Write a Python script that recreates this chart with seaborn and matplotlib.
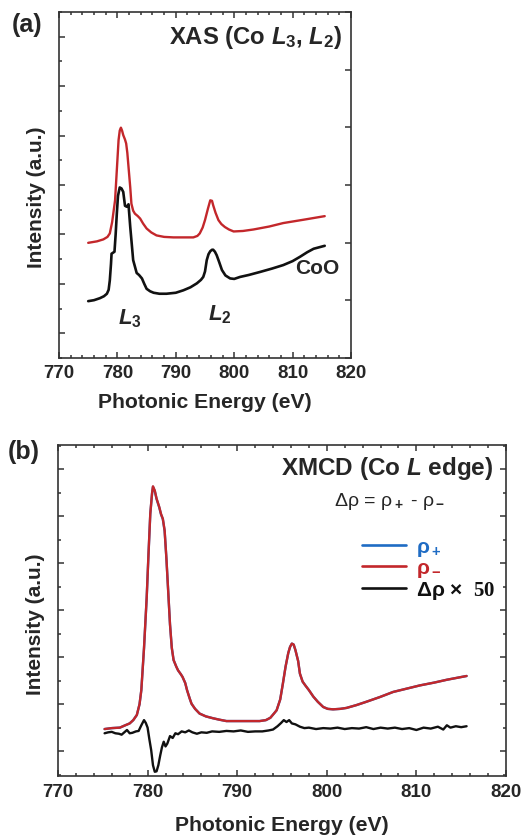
import matplotlib
matplotlib.use("Agg")
import matplotlib.pyplot as plt
from matplotlib.ticker import MultipleLocator
import pandas as pd
import seaborn as sns

# ---- data: panel (a) XAS ----
xas_red_energy = [775.0, 776.5, 777.6, 778.3, 778.7, 779.1, 779.6, 779.9, 780.2, 780.4,
                  780.6, 780.8, 781.0, 781.3, 781.5, 781.7, 781.9, 782.2, 782.4, 782.7,
                  783.0, 783.5, 783.9, 784.4, 785.0, 785.8, 786.7, 788.0, 789.6, 791.5,
                  793.0, 793.7, 794.1, 794.6, 795.0, 795.5, 795.9, 796.2, 796.4, 796.8,
                  797.3, 797.8, 798.4, 799.1, 799.9, 801.5, 803.3, 806.0, 808.4, 812.0,
                  815.5]
xas_red = [1.83, 1.86, 1.90, 1.95, 2.02, 2.25, 2.69, 3.30, 3.91, 4.10,
           4.16, 4.10, 4.01, 3.92, 3.84, 3.65, 3.37, 2.95, 2.62, 2.48,
           2.42, 2.37, 2.32, 2.22, 2.12, 2.04, 1.98, 1.95, 1.94, 1.94,
           1.94, 1.97, 2.02, 2.14, 2.29, 2.52, 2.69, 2.68, 2.59, 2.44,
           2.29, 2.21, 2.15, 2.10, 2.06, 2.07, 2.10, 2.16, 2.23, 2.30,
           2.37]

xas_coo_energy = [775.0, 776.0, 777.0, 777.7, 778.2, 778.5, 778.7, 778.9, 779.0, 779.5,
                  779.7, 779.9, 780.1, 780.4, 780.7, 781.0, 781.3, 781.6, 781.9, 782.2,
                  782.5, 782.7, 783.0, 783.3, 783.7, 784.2, 784.6, 785.0, 785.6, 786.2,
                  787.2, 788.4, 790.0, 791.3, 792.5, 793.6, 794.3, 794.7, 795.0, 795.3,
                  795.6, 795.9, 796.2, 796.4, 796.7, 797.0, 797.4, 797.9, 798.5, 799.3,
                  800.0, 801.0, 802.5, 804.4, 806.5, 808.4, 810.0, 811.3, 812.5, 813.6,
                  815.5]
xas_coo = [0.65, 0.67, 0.71, 0.75, 0.80, 0.88, 1.07, 1.40, 1.61, 1.65,
           2.00, 2.42, 2.78, 2.95, 2.93, 2.86, 2.58, 2.56, 2.61, 2.15,
           1.75, 1.48, 1.35, 1.22, 1.18, 1.11, 1.00, 0.90, 0.85, 0.82,
           0.80, 0.80, 0.82, 0.87, 0.93, 1.01, 1.08, 1.14, 1.25, 1.48,
           1.60, 1.66, 1.69, 1.69, 1.65, 1.58, 1.45, 1.28, 1.17, 1.11,
           1.10, 1.14, 1.18, 1.24, 1.31, 1.38, 1.46, 1.55, 1.64, 1.71,
           1.77]

# ---- data: panel (b) XMCD ----
xmcd_energy = [775.2, 776.0, 776.9, 777.5, 778.0, 778.4, 778.8, 779.1, 779.3, 779.6,
               779.9, 780.1, 780.3, 780.5, 780.6, 780.8, 781.0, 781.3, 781.5, 781.7,
               781.9, 782.1, 782.3, 782.5, 782.7, 782.9, 783.2, 783.4, 783.7, 783.9,
               784.2, 784.4, 784.7, 784.9, 785.3, 785.8, 786.5, 787.3, 788.0, 788.8,
               790.5, 792.5, 793.2, 793.7, 794.1, 794.4, 794.8, 795.1, 795.4, 795.7,
               795.9, 796.1, 796.3, 796.5, 796.8, 797.0, 797.3, 797.6, 798.0, 798.5,
               799.0, 799.6, 800.1, 800.7, 801.5, 802.2, 803.3, 804.4, 805.9, 807.4,
               808.9, 810.4, 812.0, 813.4, 814.5, 815.6]
rho_minus = [0.47, 0.49, 0.50, 0.55, 0.59, 0.66, 0.77, 1.00, 1.30, 2.20,
             3.28, 4.20, 5.06, 5.50, 5.64, 5.55, 5.38, 5.20, 5.05, 4.95,
             4.70, 4.10, 3.40, 2.70, 2.20, 1.94, 1.80, 1.72, 1.64, 1.58,
             1.45, 1.30, 1.12, 1.01, 0.90, 0.80, 0.74, 0.70, 0.67, 0.64,
             0.64, 0.64, 0.66, 0.71, 0.80, 0.87, 1.10, 1.44, 1.80, 2.09,
             2.22, 2.29, 2.27, 2.15, 1.92, 1.65, 1.48, 1.40, 1.30, 1.16,
             1.05, 0.94, 0.90, 0.89, 0.90, 0.92, 0.98, 1.05, 1.15, 1.26,
             1.33, 1.40, 1.46, 1.52, 1.56, 1.60]
rho_plus = [0.47, 0.49, 0.50, 0.55, 0.59, 0.66, 0.77, 1.00, 1.30, 2.19,
            3.27, 4.19, 5.05, 5.49, 5.63, 5.54, 5.37, 5.19, 5.04, 4.94,
            4.69, 4.10, 3.40, 2.70, 2.20, 1.94, 1.80, 1.72, 1.64, 1.58,
            1.45, 1.30, 1.12, 1.01, 0.90, 0.80, 0.74, 0.70, 0.67, 0.64,
            0.64, 0.64, 0.66, 0.71, 0.80, 0.87, 1.10, 1.44, 1.80, 2.09,
            2.22, 2.29, 2.27, 2.15, 1.92, 1.65, 1.48, 1.40, 1.30, 1.16,
            1.05, 0.94, 0.90, 0.89, 0.90, 0.92, 0.98, 1.05, 1.15, 1.26,
            1.33, 1.40, 1.46, 1.52, 1.56, 1.60]

diff_energy = [775.2, 775.6, 776.0, 776.4, 776.8, 777.1, 777.4, 777.7, 778.0, 778.3,
               778.7, 779.0, 779.3, 779.6, 779.8, 780.0, 780.2, 780.4, 780.6, 780.8,
               781.0, 781.2, 781.4, 781.6, 781.8, 782.0, 782.2, 782.5, 782.8, 783.1,
               783.4, 783.8, 784.2, 784.6, 785.0, 785.5, 786.0, 786.6, 787.2, 788.0,
               788.8, 789.6, 790.4, 791.2, 792.0, 792.8, 793.5, 794.0, 794.5, 794.9,
               795.2, 795.5, 795.8, 796.1, 796.5, 797.0, 797.5, 798.0, 798.8, 799.6,
               800.4, 801.2, 802.0, 802.8, 803.6, 804.4, 805.2, 806.0, 806.8, 807.6,
               808.4, 809.2, 810.0, 810.8, 811.6, 812.4, 813.0, 813.4, 813.8, 814.4,
               815.0, 815.6]
diff_x50 = [0.38, 0.40, 0.41, 0.38, 0.37, 0.35, 0.40, 0.45, 0.38, 0.39,
            0.42, 0.43, 0.55, 0.66, 0.60, 0.50, 0.25, 0.02, -0.30, -0.44,
            -0.43, -0.30, -0.10, 0.08, 0.20, 0.10, 0.16, 0.32, 0.28, 0.38,
            0.36, 0.42, 0.40, 0.44, 0.40, 0.37, 0.40, 0.39, 0.42, 0.41,
            0.43, 0.42, 0.44, 0.41, 0.42, 0.42, 0.44, 0.46, 0.53, 0.60,
            0.66, 0.62, 0.66, 0.59, 0.57, 0.52, 0.49, 0.50, 0.47, 0.49,
            0.48, 0.50, 0.47, 0.49, 0.48, 0.51, 0.47, 0.50, 0.48, 0.50,
            0.47, 0.49, 0.45, 0.50, 0.48, 0.52, 0.46, 0.55, 0.50, 0.53,
            0.51, 0.53]

RED = "#c3272b"
BLUE = "#1f6cc4"
BLACK = "#111111"
SPINE = "#333333"

sns.set_style("ticks")
plt.rcParams["font.family"] = ["Liberation Sans", "DejaVu Sans"]
plt.rcParams["font.weight"] = "bold"
plt.rcParams["mathtext.fontset"] = "custom"
plt.rcParams["mathtext.rm"] = "Liberation Sans"
plt.rcParams["mathtext.it"] = "Liberation Sans:italic:bold"
plt.rcParams["mathtext.bf"] = "Liberation Sans:bold"
plt.rcParams["mathtext.sf"] = "Liberation Serif:bold"

fig = plt.figure(figsize=(5.21, 8.40), dpi=100)
ax1 = fig.add_axes([59 / 521, 1 - 358 / 840, 292 / 521, 346 / 840])
ax2 = fig.add_axes([58 / 521, 1 - 776 / 840, 448 / 521, 331 / 840])


def style_axis(ax):
    ax.set_xlim(770, 820)
    ax.xaxis.set_major_locator(MultipleLocator(10))
    ax.xaxis.set_minor_locator(MultipleLocator(2))
    ax.yaxis.set_major_locator(MultipleLocator(1))
    ax.yaxis.set_minor_locator(MultipleLocator(0.5))
    ax.tick_params(which="both", direction="in", color=SPINE, width=1.1)
    ax.tick_params(which="major", length=4.5)
    ax.tick_params(which="minor", length=2.5)
    ax.tick_params(axis="x", which="both", top=True, labelsize=13.5, pad=5)
    ax.tick_params(axis="y", which="both", labelleft=False)
    for s in ax.spines.values():
        s.set_color(SPINE)
        s.set_linewidth(1.2)
    ax.set_xlabel("Photonic Energy (eV)", fontsize=15.2, fontweight="bold")
    ax.set_ylabel("Intensity (a.u.)", fontsize=15, fontweight="bold")


# ---- panel (a) ----
df_a_red = pd.DataFrame({"E": xas_red_energy, "I": xas_red})
df_a_coo = pd.DataFrame({"E": xas_coo_energy, "I": xas_coo})
sns.lineplot(data=df_a_red, x="E", y="I", ax=ax1, color=RED, lw=1.7, sort=False)
sns.lineplot(data=df_a_coo, x="E", y="I", ax=ax1, color=BLACK, lw=1.9, sort=False)
style_axis(ax1)
ax1.set_ylim(-0.5, 6.5)
ax1.tick_params(axis="y", which="both", right=False)
ax1.xaxis.set_label_coords(0.5, -0.1)
ax1.yaxis.set_label_coords(-0.045, 0.464)

twin = ax1.twinx()
twin.set_ylim(0, 6)
twin.yaxis.set_major_locator(MultipleLocator(1))
twin.tick_params(axis="y", direction="in", length=4.5, width=1.1, color=SPINE,
                 labelright=False)
for s in twin.spines.values():
    s.set_visible(False)

ax1.text(0.969, 0.925, r"XAS (Co $\mathit{L}_\mathbf{3}$, $\mathit{L}_\mathbf{2}$)",
         transform=ax1.transAxes, ha="right", va="center", fontsize=17.2,
         fontweight="bold")
ax1.text(782.2, 0.30, r"$\mathit{L}_\mathbf{3}$", ha="center", va="center", fontsize=16)
ax1.text(797.6, 0.37, r"$\mathit{L}_\mathbf{2}$", ha="center", va="center", fontsize=16)
ax1.text(814.3, 1.32, "CoO", ha="center", va="center", fontsize=15, fontweight="bold")
fig.text(27 / 521, 1 - 25 / 840, "(a)", ha="center", va="center", fontsize=18,
         fontweight="bold")

# ---- panel (b) ----
df_b = pd.DataFrame({"E": xmcd_energy, "plus": rho_plus, "minus": rho_minus})
df_d = pd.DataFrame({"E": diff_energy, "d": diff_x50})
sns.lineplot(data=df_b, x="E", y="plus", ax=ax2, color=BLUE, lw=1.7, sort=False,
             label=r"ρ$_+$")
sns.lineplot(data=df_b, x="E", y="minus", ax=ax2, color=RED, lw=1.7, sort=False,
             label=r"ρ$_-$")
sns.lineplot(data=df_d, x="E", y="d", ax=ax2, color=BLACK, lw=1.7, sort=False,
             label=r"Δρ ×  $\mathsf{50}$")
style_axis(ax2)
ax2.set_ylim(-0.53, 6.52)
ax2.tick_params(axis="y", which="both", right=True)
ax2.tick_params(axis="x", pad=6)
ax2.xaxis.set_label_coords(0.5, -0.122)
ax2.yaxis.set_label_coords(-0.03, 0.459)

leg = ax2.legend(loc="upper left", bbox_to_anchor=(0.66, 0.745), frameon=False,
                 fontsize=15, handlelength=2.1, handletextpad=0.5,
                 labelspacing=0.0, borderaxespad=0,
                 labelcolor=[BLUE, RED, BLACK])
for line in leg.get_lines():
    line.set_linewidth(1.9)

ax2.text(0.971, 0.930, r"XMCD (Co $\mathit{L}$ edge)", transform=ax2.transAxes,
         ha="right", va="center", fontsize=17.5, fontweight="bold")
ax2.text(0.741, 0.828, r"Δρ = ρ$_+$ - ρ$_-$", transform=ax2.transAxes,
         ha="center", va="center", fontsize=14, fontweight="normal")
fig.text(24 / 521, 1 - 452 / 840, "(b)", ha="center", va="center", fontsize=18,
         fontweight="bold")

fig.savefig("out.png", dpi=100)
